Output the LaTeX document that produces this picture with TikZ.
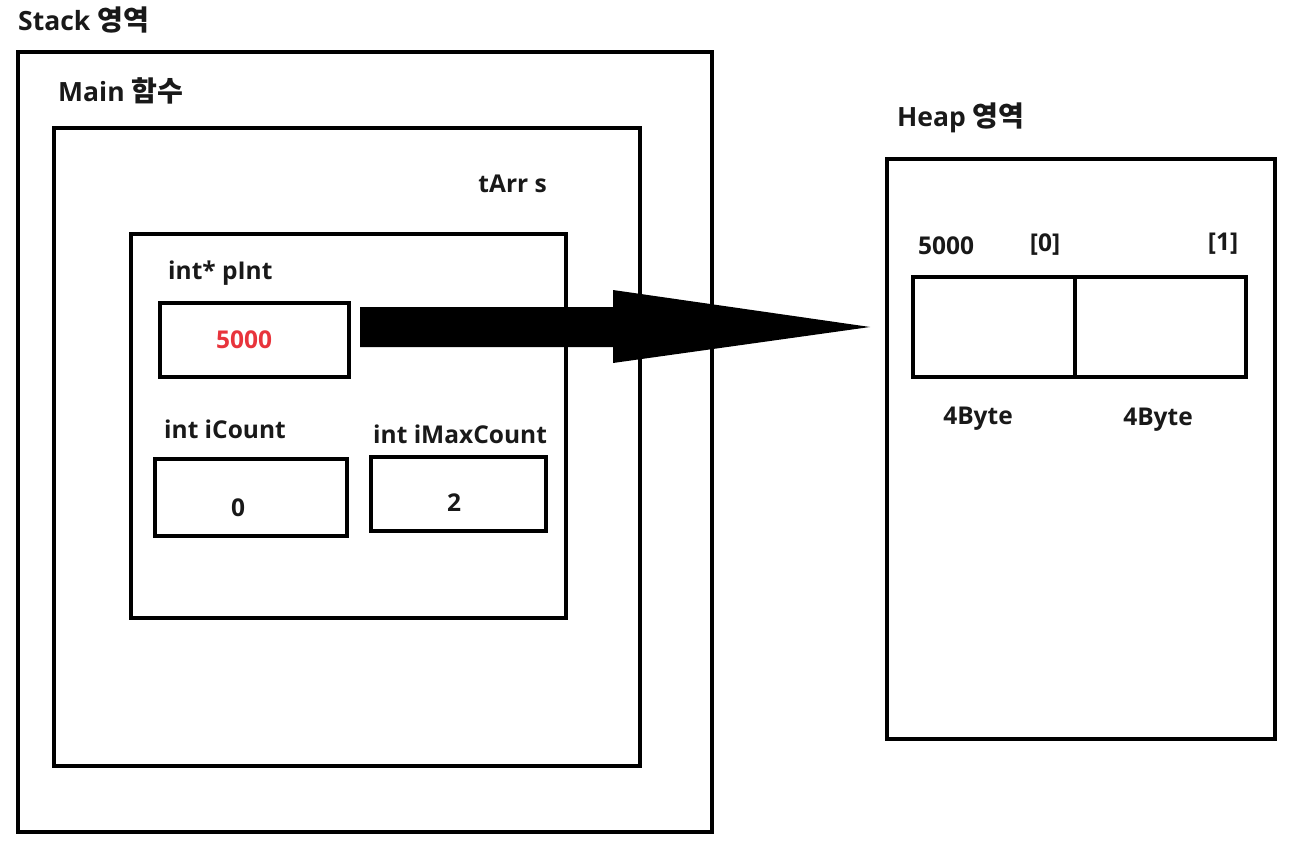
\documentclass[tikz,border=0pt]{standalone}
\usepackage{fontspec}
\usepackage{xcolor}
\usetikzlibrary{calc}
\setmainfont{Open Sans}
\newfontfamily\kr{Noto Sans CJK KR}[Scale=1.06]
\definecolor{valred}{HTML}{E8343C}

\begin{document}
\begin{tikzpicture}[x=1pt, y=-1pt,
    box/.style={draw, line width=4pt, inner sep=0pt, outer sep=0pt},
    lbl/.style={font=\fontsize{24.5}{28}\selectfont\bfseries, inner sep=0pt, text=black!90},
    title/.style={lbl, font=\fontsize{26.5}{30}\selectfont\bfseries, anchor=west}]
        \useasboundingbox (0,0) rectangle (1301,853);

        % Boxes
        \node[box, minimum width=694, minimum height=780] (stack) at (365,442) {};
        \node[box, minimum width=586, minimum height=638] (main) at (347,447) {};
        \node[box, minimum width=435, minimum height=384] (tarr) at (348.5,426) {};
        \node[box, minimum width=189, minimum height=74] (pInt) at (254.5,340) {};
        \node[box, minimum width=192, minimum height=77] (iCount) at (251,497.5) {};
        \node[box, minimum width=175, minimum height=74] (iMax) at (458.5,494) {};
        \node[box, minimum width=388, minimum height=580] (heap) at (1081,449) {};
        \node[box, minimum width=162, minimum height=100] (cell0) at (994,327) {};
        \node[box, minimum width=171, minimum height=100] (cell1) at (1160.5,327) {};

        % Labels
        \node[title] (stackLbl) at (18,20) {Stack {\kr 영역}};
        \node[title] (mainLbl) at (58,91) {Main {\kr 함수}};
        \node[lbl, anchor=east] (tarrLbl) at (547,184) {tArr s};
        \node[lbl, anchor=west] (pIntLbl) at (168,273) {int* pInt};
        \node[lbl, text=valred] (pIntVal) at (244,340) {5000};
        \node[lbl, anchor=west] (iCountLbl) at (164,429) {int iCount};
        \node[lbl] (iCountVal) at (238,508) {0};
        \node[lbl, anchor=west] (iMaxLbl) at (373,434) {int iMaxCount};
        \node[lbl] (iMaxVal) at (454,503) {2};
        \node[title] (heapLbl) at (897,118) {Heap {\kr 영역}};
        \node[lbl, anchor=west] (addr) at (918,246) {5000};
        \node[lbl] (idx0) at (1045,245) {[0]};
        \node[lbl] (idx1) at (1223,244) {[1]};
        \node[lbl] (size0) at (978,419) {4Byte};
        \node[lbl] (size1) at (1158,420) {4Byte};

        % Arrow
        \coordinate (tip) at (870,327);
        \fill ($(pInt.east)+(11,-33)$) -- (613,307) -- (613,290) -- (tip)
            -- (613,363) -- (613,347) -- ($(pInt.east)+(11,7)$) -- cycle;
    \end{tikzpicture}
\end{document}
